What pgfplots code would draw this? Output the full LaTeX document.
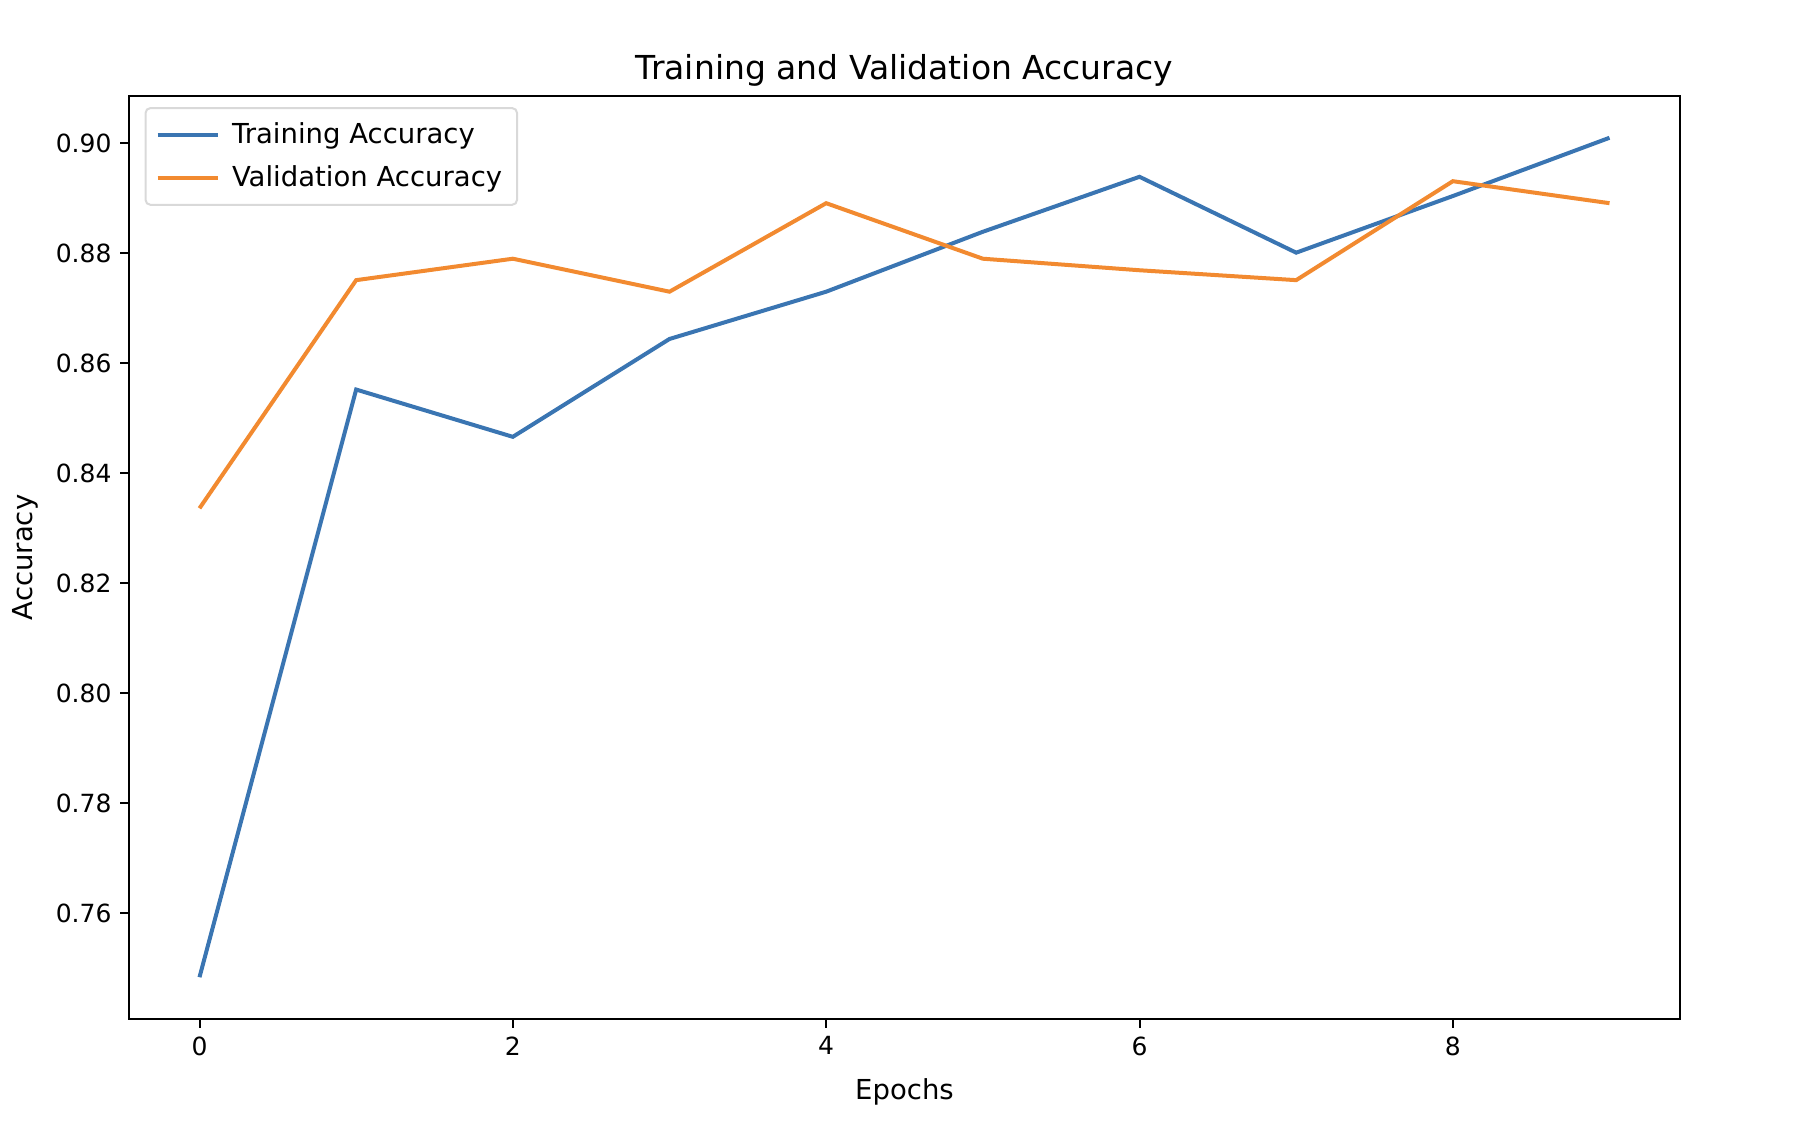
\documentclass[border=0pt]{standalone}
\usepackage{fontspec}
\setmainfont{DejaVu Sans}
\usepackage{pgfplots}
\pgfplotsset{compat=1.18}
\definecolor{trainblue}{HTML}{3A75B2}
\definecolor{valorange}{HTML}{F28A30}

\begin{document}
\begin{tikzpicture}
\begin{axis}[
    name=main,
    scale only axis,
    width=620.4pt,
    height=369.2pt,
    xmin=-0.45, xmax=9.45,
    ymin=0.7407, ymax=0.9086,
    xtick={0,2,4,6,8},
    ytick={0.76,0.78,0.80,0.82,0.84,0.86,0.88,0.90},
    yticklabel style={/pgf/number format/.cd, fixed, fixed zerofill, precision=2},
    /pgf/number format/assume math mode=true,
    tick label style={font=\fontsize{10}{12}\selectfont},
    tick align=outside,
    tick pos=left,
    major tick length=3.5pt,
    axis line style={line width=0.8pt},
    every tick/.style={line width=0.8pt, black},
    title={Training and Validation Accuracy},
    title style={font=\fontsize{13.2}{15}\selectfont, yshift=-5.5pt},
    xlabel={Epochs},
    ylabel={Accuracy},
    label style={font=\fontsize{11}{13}\selectfont},
    xlabel style={yshift=-2.5pt},
    legend style={
        at={(0.01,0.988)}, anchor=north west,
        font=\fontsize{11}{13}\selectfont,
        draw=black!15, line width=0.8pt, rounded corners=2pt,
        row sep=3pt, inner sep=4pt,
        nodes={inner sep=2pt},
    },
    legend cell align=left,
    legend image code/.code={
        \draw[#1] (0pt,0pt) -- (24pt,0pt);
        \path (27pt,0pt);
    },
]
\addplot[color=trainblue, line width=1.6pt] coordinates {
(0,0.7483) (1,0.8552) (2,0.8466) (3,0.8644) (4,0.8730)
(5,0.8839) (6,0.8939) (7,0.8801) (8,0.8904) (9,0.9010)
};
\addlegendentry{Training Accuracy}
\addplot[color=valorange, line width=1.6pt] coordinates {
(0,0.8336) (1,0.8751) (2,0.8790) (3,0.8730) (4,0.8891)
(5,0.8790) (6,0.8769) (7,0.8751) (8,0.8931) (9,0.8891)
};
\addlegendentry{Validation Accuracy}
\end{axis}
\pgfresetboundingbox
\path ([xshift=-51.6pt,yshift=-44.4pt]main.south west) rectangle ([xshift=51.2pt,yshift=38.4pt]main.north east);
\end{tikzpicture}
\end{document}
